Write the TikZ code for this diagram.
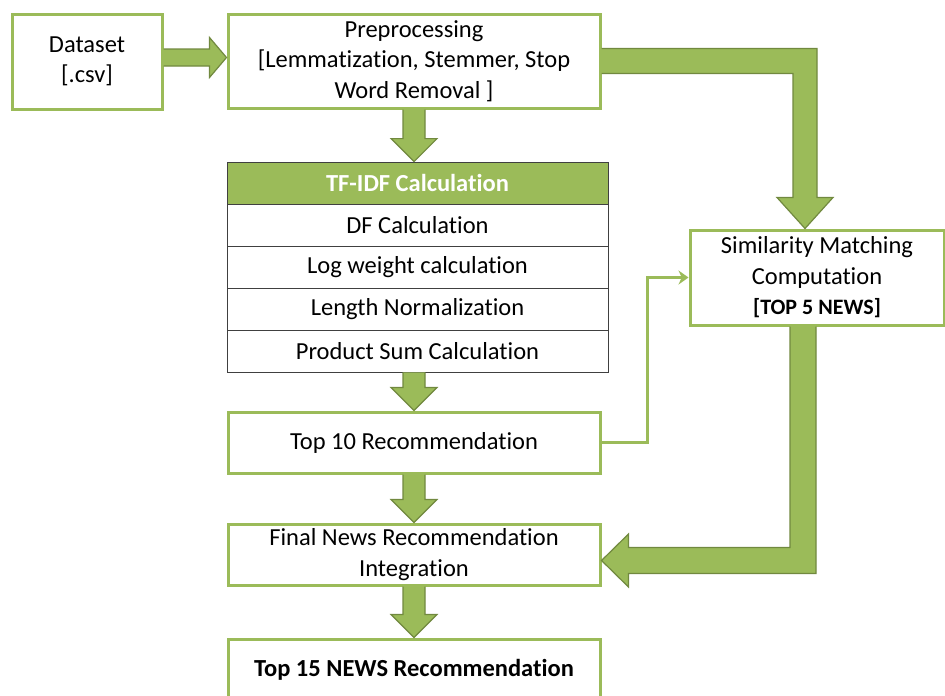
\documentclass[tikz,border=0pt]{standalone}
\usepackage{fontspec}
\setmainfont{Carlito}[RawFeature={-liga;-dlig;-clig}]
\usetikzlibrary{calc,arrows.meta}
\definecolor{og}{HTML}{9BBB59}
\definecolor{ogd}{HTML}{71893F}
\tikzset{
 box/.style={draw=og, line width=3pt, fill=white, align=center, inner sep=0pt, minimum width=372pt, font=\fontsize{24.5}{30.5}\selectfont},
 cell/.style={draw=black!75, line width=0.8pt, fill=white, minimum width=381pt, minimum height=42pt, inner sep=0pt, font=\fontsize{24.5}{30}\selectfont},
 blk/.style={fill=og, draw=ogd, line width=1.2pt, line join=miter},
 link/.style={draw=og, line width=3.5pt, -{Stealth[length=10pt,width=14pt]}}
}
\newcommand{\vblk}[2]{\filldraw[blk] let \p1=(#1), \p2=(#2) in (\x1-11pt,\y1) -- (\x1-11pt,\y2+23pt) -- (\x1-23pt,\y2+23pt) -- (\x1,\y2) -- (\x1+23pt,\y2+23pt) -- (\x1+11pt,\y2+23pt) -- (\x1+11pt,\y1);}
\begin{document}
\begin{tikzpicture}[x=1pt,y=1pt]
\useasboundingbox (0,0) rectangle (945,-696);
% boxes
\node[box, minimum width=150pt, minimum height=95pt] (ds) at (87,-61.5) {Dataset\\{[.csv]}};
\node[box, minimum height=94pt] (pre) at (414,-61) {Preprocessing\\{[Lemmatization, Stemmer, Stop}\\Word Removal ]};
\node[cell, fill=og, text=white, font=\fontsize{24.5}{30}\selectfont\bfseries] (tf) at (417.5,-183) {TF-IDF Calculation};
\node[cell] (r1) at (417.5,-225) {DF Calculation};
\node[cell] (r2) at (417.5,-267) {Log weight calculation};
\node[cell] (r3) at (417.5,-309) {Length Normalization};
\node[cell] (r4) at (417.5,-351) {Product Sum Calculation};
\node[box, minimum height=61pt] (t10) at (414,-442.5) {Top 10 Recommendation};
\node[box, minimum height=61pt] (fin) at (414,-554.5) {Final News Recommendation\\Integration};
\node[box, minimum height=61pt, font=\fontsize{24.5}{30}\selectfont\bfseries] (t15) at (414,-669.5) {Top 15 NEWS Recommendation};
\node[box, minimum width=254pt, minimum height=95pt] (sim) at (817,-277.5) {Similarity Matching\\Computation\\{\fontsize{22}{30.5}\selectfont\bfseries [TOP 5 NEWS]}};
% block arrows
\coordinate (a1) at ($(ds.east)+(0,4)$);
\filldraw[blk] let \p1=(a1), \p2=(pre.west) in (\x1,\y1+8.5pt) -- (\x2-17pt,\y1+8.5pt) -- (\x2-17pt,\y1+20pt) -- (\x2,\y1) -- (\x2-17pt,\y1-20pt) -- (\x2-17pt,\y1-8.5pt) -- (\x1,\y1-8.5pt);
\vblk{pre.south}{tf.north}
\vblk{t10.north |- r4.south}{t10.north}
\vblk{t10.south}{fin.north}
\vblk{fin.south}{t15.north}
\coordinate (e1) at ($(sim.north)+(-12,0)$);
\filldraw[blk] let \p1=(pre.east), \p2=(e1) in (\x1,\y1+12.5pt) -- (\x2+12pt,\y1+12.5pt) -- (\x2+12pt,\y2+31pt) -- (\x2+28pt,\y2+31pt) -- (\p2) -- (\x2-28pt,\y2+31pt) -- (\x2-12pt,\y2+31pt) -- (\x2-12pt,\y1-12.5pt) -- (\x1,\y1-12.5pt);
\coordinate (e2s) at ($(sim.south)+(-14,0)$);
\coordinate (e2t) at ($(fin.east)+(0,-6)$);
\filldraw[blk] let \p1=(e2s), \p2=(e2t) in (\x1-13pt,\y1) -- (\x1-13pt,\y2+13pt) -- (\x2+27pt,\y2+13pt) -- (\x2+27pt,\y2+26.5pt) -- (\p2) -- (\x2+27pt,\y2-26.5pt) -- (\x2+27pt,\y2-13pt) -- (\x1+13pt,\y2-13pt) -- (\x1+13pt,\y1);
% thin link
\draw[link] (t10.east) -- ++(46,0) |- (sim.west);
\end{tikzpicture}
\end{document}
